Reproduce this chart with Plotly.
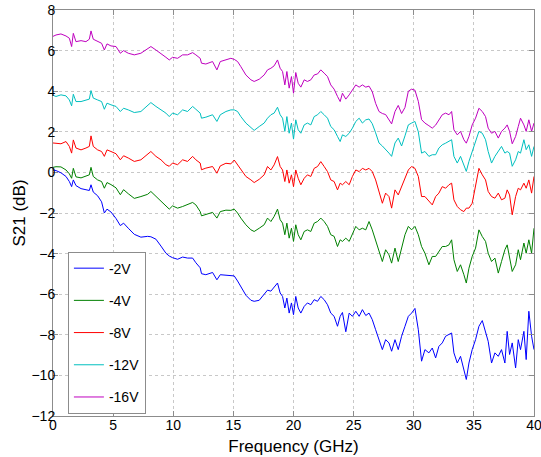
import plotly.graph_objects as go

freq = [0, 0.25, 0.66, 1.08, 1.36, 1.55, 1.69, 1.91, 2.33, 2.74,
        3.02, 3.16, 3.35, 3.71, 4.04, 4.27, 4.49, 4.82, 5.24, 5.6,
        5.87, 6.26, 6.76, 7.31, 7.87, 8.14, 8.56, 8.98, 9.39, 9.67,
        9.94, 10.36, 10.78, 11.19, 11.61, 11.88, 12.24, 12.35, 12.71,
        13.27, 13.63, 13.91, 14.38, 14.79, 15.07, 15.35, 15.62, 16.04, 16.46,
        16.73, 17.15, 17.56, 17.84, 18.12, 18.39, 18.67, 18.89, 19.09, 19.28,
        19.45, 19.64, 19.83, 20.0, 20.19, 20.39, 20.61, 20.89, 21.16, 21.44,
        21.72, 22.0, 22.27, 22.55, 22.83, 23.1, 23.38, 23.66, 23.88, 24.07,
        24.35, 24.63, 24.9, 25.18, 25.46, 25.73, 26.01,
        26.28, 26.55, 26.83, 27.11, 27.39, 27.66, 27.94, 28.16, 28.44, 28.71,
        28.99, 29.27, 29.55, 29.82, 30.1, 30.38, 30.65, 30.93, 31.26, 31.54,
        31.82, 32.09, 32.37, 32.65, 32.93, 33.15, 33.34, 33.62, 33.89, 34.17,
        34.37, 34.59, 34.86, 35.14, 35.42, 35.7, 35.97, 36.19, 36.47, 36.75,
        37.03, 37.3, 37.58, 37.77, 37.97, 38.19, 38.47, 38.69, 38.88, 39.16,
        39.35, 39.57, 39.8, 40.0]

s21_2V = [0.12, 0.09, -0.02, -0.2, -0.45, -0.7, -0.37, -0.65, -0.8, -0.86,
          -0.89, -0.61, -0.97, -1.15, -1.45, -2.0, -1.81, -1.95, -2.27, -2.62,
          -2.5, -2.75, -3.05, -3.19, -3.15, -3.17, -3.29, -3.63, -3.98, -4.12,
          -4.2, -4.28, -4.17, -4.22, -4.22, -4.45, -4.7, -4.99, -5.04,
          -4.93, -5.29, -5.04, -5.05, -5.06, -5.1, -5.35, -5.65, -6.05, -6.3,
          -6.35, -6.3, -6.0, -5.8, -5.85, -5.65, -5.45, -5.94, -6.11, -6.68,
          -6.19, -6.93, -6.43, -7.01, -6.11, -6.68, -6.93, -6.6, -6.43, -6.52,
          -6.27, -6.35, -6.11, -6.27, -6.52, -6.93, -7.09, -7.58, -7.09, -6.9,
          -7.85, -6.93, -7.09, -6.84, -7.09, -6.76, -7.05,
          -6.93, -7.25, -7.75, -8.24, -8.73, -8.24, -8.4, -8.81, -8.24, -8.73,
          -8.07, -7.58, -7.09, -6.93, -6.7, -7.75, -9.3, -8.73, -8.89, -8.65,
          -9.14, -8.57, -8.4, -8.07, -7.99, -7.91, -8.89, -9.39, -9.06, -9.72,
          -10.2, -9.39, -8.73, -8.24, -7.58, -7.3, -7.83, -8.32, -9.39, -8.89,
          -9.06, -8.73, -9.39, -7.83, -8.97, -8.4, -9.63, -8.24, -8.73, -7.83,
          -9.22, -6.84, -8.07, -8.73]

s21_4V = [0.25, 0.28, 0.27, 0.12, -0.07, -0.29, 0.2, -0.22, -0.27, -0.2,
          -0.12, 0.25, -0.2, -0.37, -0.45, -0.78, -0.5, -0.6, -0.76, -1.1,
          -0.85, -1.05, -1.28, -1.19, -1.08, -0.94, -1.19, -1.43, -1.68, -1.81,
          -1.65, -1.76, -1.68, -1.6, -1.48, -1.6, -1.93, -2.14, -2.06,
          -1.97, -2.25, -1.93, -1.86, -1.87, -1.81, -2.0, -2.25, -2.58, -2.83,
          -2.91, -2.75, -2.58, -2.25, -2.42, -2.17, -1.81, -2.33, -2.5, -3.07,
          -2.5, -3.24, -2.75, -3.4, -2.58, -3.07, -3.32, -2.91, -2.83, -2.91,
          -2.5, -2.42, -2.25, -2.42, -2.66, -3.07, -3.15, -3.65, -3.32, -3.4,
          -3.24, -3.4, -3.07, -2.66, -2.83, -2.75, -2.83,
          -2.42, -2.83, -3.32, -3.81, -4.39, -3.81, -4.06, -4.47, -3.73, -4.39,
          -3.65, -3.07, -2.66, -2.83, -2.66, -3.07, -3.65, -3.98, -4.55, -4.14,
          -4.14, -3.89, -3.65, -3.65, -3.57, -3.32, -4.3, -4.88, -4.55, -5.04,
          -5.45, -4.72, -4.14, -3.73, -2.83, -3.16, -3.4, -3.98, -4.39, -4.22,
          -4.96, -4.39, -3.81, -3.57, -4.14, -4.88, -4.55, -3.81, -4.3, -3.48,
          -3.98, -3.32, -3.98, -2.75]

s21_8V = [1.45, 1.44, 1.41, 1.52, 1.28, 0.95, 1.6, 1.2, 1.11, 1.2,
          1.28, 1.8, 1.28, 1.11, 1.03, 0.79, 1.11, 1.03, 0.92, 0.62,
          0.82, 0.71, 0.54, 0.62, 0.87, 1.03, 0.79, 0.62, 0.38, 0.3,
          0.46, 0.38, 0.62, 0.54, 0.79, 0.62, 0.46, 0.13, 0.21,
          0.29, -0.04, 0.32, 0.45, 0.42, 0.61, 0.37, 0.12, -0.2, -0.37,
          -0.5, -0.34, -0.12, 0.29, 0.12, 0.37, 0.78, 0.29, 0.12, -0.45,
          0.12, -0.53, -0.12, -0.7, 0.12, -0.29, -0.61, -0.29, -0.12, -0.2,
          0.2, 0.29, 0.53, 0.29, 0.04, -0.37, -0.45, -0.86, -0.53, -0.61,
          -0.45, -0.61, -0.2, 0.12, 0.04, 0.2, 0.12,
          0.2, 0.04, -0.37, -0.94, -1.52, -1.02, -1.19, -1.76, -0.86, -1.11,
          -0.7, -0.2, 0.12, 0.29, 0.2, -0.2, -1.19, -1.19, -1.43, -1.6,
          -1.19, -1.02, -0.7, -0.78, -0.61, -0.53, -1.35, -1.68, -1.84, -1.93,
          -1.76, -1.76, -1.52, -0.7, 0.2, -0.12, -0.37, -0.94, -1.19, -1.27,
          -1.02, -1.35, -1.27, -0.86, -1.11, -2.09, -1.19, -0.78, -0.86, -0.53,
          -0.78, -0.37, -1.02, -0.2]

s21_12V = [3.8, 3.74, 3.82, 3.77, 3.57, 3.28, 3.85, 3.49, 3.49, 3.57,
           3.61, 4.03, 3.66, 3.57, 3.49, 3.11, 3.41, 3.33, 3.25, 3.0,
           3.16, 3.08, 2.95, 3.0, 3.28, 3.44, 3.25, 3.08, 2.92, 2.75,
           2.92, 2.84, 3.08, 3.0, 3.25, 3.11, 2.92, 2.67, 2.72,
           2.84, 2.51, 2.84, 3.0, 3.08, 3.08, 3.0, 2.75, 2.43, 2.18,
           2.07, 2.26, 2.43, 2.67, 2.84, 2.92, 3.21, 2.84, 2.67, 2.02,
           2.75, 1.93, 2.43, 1.64, 2.59, 2.1, 1.93, 2.34, 2.43, 2.34,
           2.75, 2.84, 3.0, 2.84, 2.67, 2.26, 2.1, 1.77, 1.52, 1.85,
           1.77, 1.93, 2.18, 2.51, 2.67, 2.43, 2.59,
           2.63, 2.4, 1.95, 1.45, 1.3, 1.15, 0.95, 0.79, 1.45, 1.69,
           1.3, 1.8, 2.34, 2.43, 2.51, 2.0, 0.95, 1.03, 0.79, 0.87,
           0.87, 1.2, 1.36, 1.44, 1.52, 1.61, 0.79, 0.46, 0.79, 0.3,
           0.05, 0.54, 1.03, 1.44, 2.02, 1.93, 1.61, 1.03, 0.46, 0.79,
           1.03, 1.28, 0.95, 1.03, 0.95, 0.3, 0.62, 1.03, 0.95, 1.61,
           1.12, 1.36, 0.79, 1.28]

s21_16V = [6.7, 6.77, 6.82, 6.72, 6.61, 6.2, 6.85, 6.44, 6.49, 6.44,
           6.56, 6.97, 6.56, 6.44, 6.36, 6.03, 6.33, 6.23, 6.2, 5.87,
           6.0, 5.87, 5.79, 5.87, 6.11, 6.2, 6.03, 5.87, 5.67, 5.54,
           5.67, 5.62, 5.79, 5.79, 5.9, 5.79, 5.62, 5.38, 5.34,
           5.46, 5.05, 5.46, 5.54, 5.62, 5.57, 5.46, 5.21, 4.8, 4.56,
           4.48, 4.59, 4.8, 5.05, 5.13, 5.25, 5.54, 5.13, 4.97, 4.31,
           4.97, 4.15, 4.72, 3.9, 4.92, 4.39, 4.2, 4.56, 4.48, 4.56,
           4.8, 4.85, 5.05, 4.89, 4.72, 4.31, 4.1, 3.74, 3.49, 3.9,
           3.61, 3.82, 4.07, 4.31, 4.2, 4.31, 4.2,
           4.25, 3.98, 3.4, 3.0, 2.9, 2.85, 2.6, 2.39, 3.0, 3.3,
           2.9, 3.2, 4.0, 4.1, 4.05, 3.5, 2.6, 2.43, 2.3, 2.18,
           2.33, 2.59, 2.84, 2.92, 2.84, 3.0, 2.1, 1.85, 2.02, 1.61,
           1.44, 1.77, 2.34, 2.67, 3.16, 3.0, 2.75, 2.18, 1.93, 2.02,
           1.69, 2.02, 2.18, 2.34, 2.02, 1.41, 1.77, 2.26, 2.67, 2.34,
           2.02, 2.59, 2.02, 2.43]

series_names = ["-2V", "-4V", "-8V", "-12V", "-16V"]
series_values = [s21_2V, s21_4V, s21_8V, s21_12V, s21_16V]
series_colors = ["#0000FF", "#008000", "#FF0000", "#00BFBF", "#BF00BF"]

x_ticks = [0, 5, 10, 15, 20, 25, 30, 35, 40]
y_ticks = [-12, -10, -8, -6, -4, -2, 0, 2, 4, 6, 8]

fig = go.Figure()
for name, vals, col in zip(series_names, series_values, series_colors):
    fig.add_trace(go.Scatter(x=freq, y=vals, mode="lines", name=name,
                             legendgroup=name,
                             line=dict(color=col, width=1)))

axis_common = dict(showline=True, mirror="ticks", linecolor="#8c8c8c", linewidth=1,
                   ticks="inside", ticklen=5, tickcolor="#8c8c8c",
                   showgrid=True, gridcolor="#c8c8c8", griddash="dot", gridwidth=1,
                   zeroline=False, automargin=False, ticklabeloverflow="allow",
                   tickfont=dict(size=14, color="black"))

fig.update_layout(
    width=541, height=457,
    margin=dict(l=53, r=7, t=10, b=41),
    paper_bgcolor="white", plot_bgcolor="white",
    font=dict(family="Liberation Sans, Arial, sans-serif", size=14, color="black"),
    showlegend=True,
    legend=dict(x=0.031, y=0.405, xanchor="left", yanchor="top",
                bgcolor="white", bordercolor="#8c8c8c", borderwidth=1,
                font=dict(size=14), tracegroupgap=11, traceorder="grouped"),
    xaxis=dict(range=[0, 40], tickvals=x_ticks, ticklabelstandoff=-4,
               title=dict(text="Frequency (GHz)", standoff=8), **axis_common),
    yaxis=dict(range=[-12, 8], tickvals=y_ticks, ticklabelstandoff=-6,
               title=dict(text="S21 (dB)", standoff=1), **axis_common),
)

fig.write_html("out.html", config={"displayModeBar": False},
               post_script="document.body.style.margin='0';")
